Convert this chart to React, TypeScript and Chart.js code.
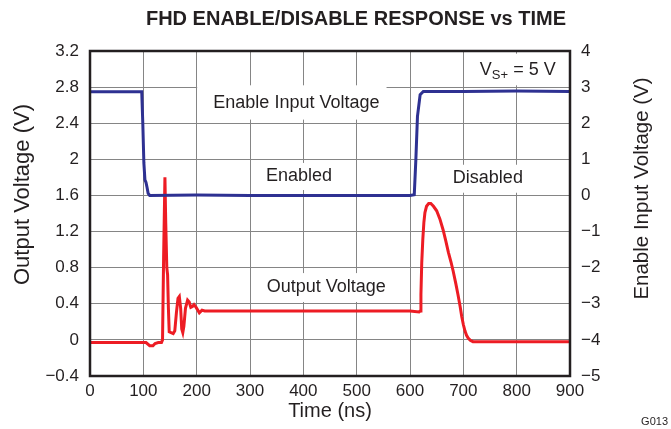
import React, { useEffect, useRef } from "react";
import { Chart, registerables } from "chart.js";

Chart.register(...registerables);

// ---- Data ----
const enableTimes = [0, 50, 97, 99, 101, 103, 105, 107, 109, 112, 200, 300, 400, 500, 600, 608, 611, 614, 619, 625, 700, 800, 900];
const enableValues = [2.87, 2.87, 2.87, 2.0, 0.9, 0.43, 0.36, 0.22, 0.06, 0.0, 0.01, 0.0, 0.0, 0.0, 0.0, 0.02, 1.0, 2.19, 2.79, 2.88, 2.88, 2.89, 2.88];

const outputTimes = [0, 100, 105, 112, 118, 122, 128, 134, 136, 138, 140.5, 142, 144, 145.5, 147, 148.5, 152, 156, 159, 162, 165, 167.5, 170, 172, 174, 176, 179, 183, 186, 189, 192, 195, 199, 205, 210, 215, 300, 400, 500, 600, 617, 619, 620.5, 622, 624, 626, 628, 631, 635, 639, 644, 650, 656, 662, 667, 672, 677, 681, 686, 690, 694, 697, 700, 703, 706, 709, 713, 718, 800, 900];
const outputValues = [-0.03, -0.03, -0.03, -0.065, -0.065, -0.04, -0.03, -0.03, 0.0, 0.9, 1.8, 1.3, 0.8, 0.72, 0.35, 0.09, 0.08, 0.07, 0.1, 0.3, 0.46, 0.48, 0.35, 0.12, 0.08, 0.15, 0.35, 0.44, 0.42, 0.36, 0.37, 0.39, 0.36, 0.3, 0.33, 0.32, 0.32, 0.32, 0.32, 0.32, 0.31, 0.32, 0.5, 0.85, 1.11, 1.3, 1.41, 1.48, 1.51, 1.51, 1.48, 1.43, 1.34, 1.22, 1.1, 0.97, 0.86, 0.76, 0.62, 0.5, 0.37, 0.26, 0.17, 0.1, 0.05, 0.02, -0.005, -0.02, -0.02, -0.02];

const xTicks = [0, 100, 200, 300, 400, 500, 600, 700, 800, 900];
const leftTicks = [-0.4, 0, 0.4, 0.8, 1.2, 1.6, 2, 2.4, 2.8, 3.2];
const rightTicks = [-5, -4, -3, -2, -1, 0, 1, 2, 3, 4];

const titleText = "FHD ENABLE/DISABLE RESPONSE vs TIME";
const xTitle = "Time (ns)";
const leftTitle = "Output Voltage (V)";
const rightTitle = "Enable Input Voltage (V)";
const seriesNames = ["Enable Input Voltage", "Output Voltage"];
const noteCode = "G013";

const FONT = "'Liberation Sans', Arial, Helvetica, sans-serif";
const INK = "#231f20";
const BLUE = "#2e3192";
const RED = "#ed1c24";
const GRID = "#858585";

function fmt(v: number): string {
  const r = Math.round(v * 10) / 10;
  const s = String(Math.abs(r));
  return r < 0 ? "\u2212" + s : s;
}

const decorPlugin = {
  id: "decor",
  beforeDatasetsDraw(chart: any) {
    const { ctx, scales } = chart;
    const x = scales.x;
    const y = scales.y;
    const px = (t: number) => x.getPixelForValue(t);
    const py = (v: number) => y.getPixelForValue(v);
    ctx.save();
    ctx.fillStyle = "#ffffff";
    // white label boxes (cover grid)
    const boxes: [number, number, number, number][] = [
      [px(200) + 0.5, py(2.82), px(556), py(2.44)],
      [px(322), py(1.96), px(467), py(1.66)],
      [px(315), py(0.74), px(574), py(0.42)],
      [px(665), py(1.94), px(826), py(1.63)],
      [px(715), py(3.17), px(888), py(2.82)],
    ];
    for (const [x1, y1, x2, y2] of boxes) ctx.fillRect(x1, y1, x2 - x1, y2 - y1);

    ctx.fillStyle = INK;
    ctx.textBaseline = "middle";
    ctx.textAlign = "center";
    ctx.font = `18px ${FONT}`;
    ctx.fillText(seriesNames[0], px(387), py(2.62));
    ctx.fillText("Enabled", px(392), py(1.81));
    ctx.fillText(seriesNames[1], px(443), py(0.58));
    ctx.fillText("Disabled", px(746), py(1.79));

    // V_S+ = 5 V
    ctx.textAlign = "left";
    ctx.textBaseline = "alphabetic";
    let cx = px(731);
    const base = py(3.2) + 24;
    ctx.font = `18px ${FONT}`;
    ctx.fillText("V", cx, base);
    cx += ctx.measureText("V").width;
    ctx.font = `13px ${FONT}`;
    ctx.fillText("S+", cx, base + 4);
    cx += ctx.measureText("S+").width;
    ctx.font = `18px ${FONT}`;
    ctx.fillText(" = 5 V", cx, base);
    ctx.restore();
  },
  afterDraw(chart: any) {
    const { ctx, chartArea } = chart;
    const { left, right, top, bottom } = chartArea;
    ctx.save();
    // frame
    ctx.strokeStyle = INK;
    ctx.lineWidth = 2.5;
    ctx.strokeRect(left, top, right - left, bottom - top);

    ctx.fillStyle = INK;
    // title
    ctx.font = `bold 20px ${FONT}`;
    ctx.textAlign = "right";
    ctx.textBaseline = "alphabetic";
    ctx.fillText(titleText, right - 4, 25);

    // x title
    ctx.font = `20px ${FONT}`;
    ctx.textAlign = "center";
    ctx.textBaseline = "middle";
    ctx.fillText(xTitle, (left + right) / 2, 411);

    // left title
    ctx.save();
    ctx.font = `22px ${FONT}`;
    ctx.translate(23, (top + bottom) / 2 - 19);
    ctx.rotate(-Math.PI / 2);
    ctx.fillText(leftTitle, 0, 0);
    ctx.restore();

    // right title
    ctx.save();
    ctx.font = `20.5px ${FONT}`;
    ctx.translate(642, (top + bottom) / 2 - 25);
    ctx.rotate(-Math.PI / 2);
    ctx.fillText(rightTitle, 0, 0);
    ctx.restore();

    // figure code
    ctx.font = `11px ${FONT}`;
    ctx.textAlign = "right";
    ctx.fillText(noteCode, 668, 422);
    ctx.restore();
  },
};

export default function App() {
  const ref = useRef<HTMLCanvasElement | null>(null);
  useEffect(() => {
    const canvas = ref.current;
    if (!canvas) return;
    const enableData = enableTimes.map((t, i) => ({ x: t, y: enableValues[i] }));
    const outputData = outputTimes.map((t, i) => ({ x: t, y: outputValues[i] }));
    const tickFont = { family: FONT, size: 17 };
    const chart = new Chart(canvas, {
      type: "line",
      data: {
        datasets: [
          {
            label: seriesNames[0],
            data: enableData,
            yAxisID: "y2",
            borderColor: BLUE,
            borderWidth: 3,
            pointRadius: 0,
            tension: 0,
          },
          {
            label: seriesNames[1],
            data: outputData,
            yAxisID: "y",
            borderColor: RED,
            borderWidth: 3,
            pointRadius: 0,
            tension: 0,
          },
        ],
      },
      options: {
        responsive: false,
        animation: false,
        devicePixelRatio: 1,
        layout: { padding: { top: 51, left: 0, right: 0, bottom: 0 } },
        plugins: { legend: { display: false }, tooltip: { enabled: false }, title: { display: false } },
        scales: {
          x: {
            type: "linear",
            min: xTicks[0],
            max: xTicks[xTicks.length - 1],
            afterBuildTicks: (s: any) => { s.ticks = xTicks.map((v) => ({ value: v })); },
            afterFit: (s: any) => { s.height = 53; },
            ticks: { font: tickFont, color: INK, padding: 5, maxRotation: 0, callback: (v: any) => fmt(Number(v)) },
            grid: { color: GRID, lineWidth: 1, drawTicks: false },
            border: { display: false },
          },
          y: {
            type: "linear",
            position: "left",
            min: leftTicks[0],
            max: leftTicks[leftTicks.length - 1],
            afterBuildTicks: (s: any) => { s.ticks = leftTicks.map((v) => ({ value: v })); },
            afterFit: (s: any) => { s.width = 90; },
            ticks: { font: tickFont, color: INK, padding: 11, callback: (v: any) => fmt(Number(v)) },
            grid: { color: GRID, lineWidth: 1, drawTicks: false },
            border: { display: false },
          },
          y2: {
            type: "linear",
            position: "right",
            min: rightTicks[0],
            max: rightTicks[rightTicks.length - 1],
            afterBuildTicks: (s: any) => { s.ticks = rightTicks.map((v) => ({ value: v })); },
            afterFit: (s: any) => { s.width = 101; },
            ticks: { font: tickFont, color: INK, padding: 11, callback: (v: any) => fmt(Number(v)) },
            grid: { display: false, drawTicks: false },
            border: { display: false },
          },
        },
      },
      plugins: [decorPlugin],
    } as any);
    return () => chart.destroy();
  }, []);
  return (
    <div style={{ position: "fixed", left: 0, top: 0, width: 671, height: 429, background: "#fff" }}>
      <canvas ref={ref} width={671} height={429} style={{ width: 671, height: 429, display: "block" }} />
    </div>
  );
}
